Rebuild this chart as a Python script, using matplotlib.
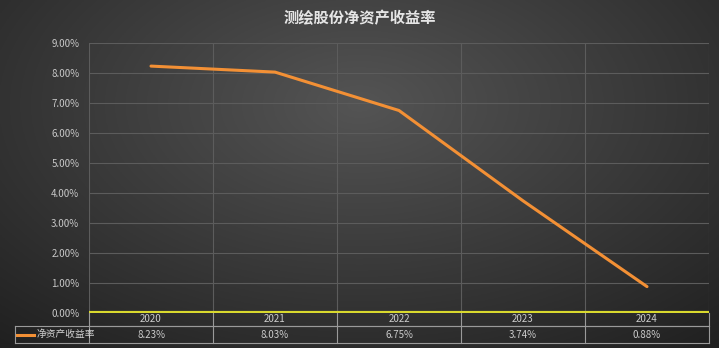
import numpy as np
import matplotlib
matplotlib.use("Agg")
import matplotlib.pyplot as plt
from matplotlib.transforms import blended_transform_factory

plt.rcParams['font.family'] = ['Noto Sans CJK SC', 'DejaVu Sans']

title = "测绘股份净资产收益率"
series_name = "净资产收益率"
years = ["2020", "2021", "2022", "2023", "2024"]
roe = [8.23, 8.03, 6.75, 3.74, 0.88]
roe_labels = ["8.23%", "8.03%", "6.75%", "3.74%", "0.88%"]
yticks = [0, 1, 2, 3, 4, 5, 6, 7, 8, 9]

W, H = 719, 348
fig = plt.figure(figsize=(W / 100, H / 100), dpi=100)

# radial dark background
bg = fig.add_axes([0, 0, 1, 1], zorder=-10)
gx, gy = np.meshgrid(np.linspace(0, 1, 400), np.linspace(0, 1, 200))
r = np.sqrt(((gx - 0.5) / 0.75) ** 2 + ((gy - 0.3) / 0.9) ** 2)
shade = np.clip(0.33 - 0.2 * r, 0.12, 0.33)
bg.imshow(np.dstack([shade, shade, shade]), extent=(0, 1, 0, 1), aspect="auto", origin="upper")
bg.axis("off")

left, right, top, bottom = 89, 709, 43, 313
ax = fig.add_axes([left / W, 1 - bottom / H, (right - left) / W, (bottom - top) / H])
ax.patch.set_alpha(0)
for s in ax.spines.values():
    s.set_visible(False)

x = np.arange(len(years))
ax.plot(x, roe, color="#F39035", lw=2.2, solid_capstyle="round", zorder=3)
ax.set_xlim(-0.5, len(years) - 0.5)
ax.set_ylim(0, 9)
ax.set_yticks(yticks)
ax.set_yticklabels([f"{v:.2f}%" for v in yticks])
ax.tick_params(axis="y", length=0, colors="#c8c8c8", labelsize=7, pad=7)
ax.set_xticks([])
grid_c = "#5c5c5c"
for v in yticks[1:]:
    ax.axhline(v, color=grid_c, lw=0.8, zorder=1)
for i in range(len(years) + 1):
    ax.axvline(i - 0.5, color=grid_c, lw=0.8, zorder=1)
ax.axhline(0, color="#d9d92e", lw=3, zorder=4)

# data table under the axes
ph = bottom - top
tr = blended_transform_factory(ax.transData, ax.transAxes)
y1 = -(326 - bottom) / ph
y2 = -(343 - bottom) / ph
tc = "#9a9a9a"
leg_x = -(left - 15) / (right - left)
ax.plot([-0.5, 4.5], [y1, y1], transform=tr, color=tc, lw=0.8, clip_on=False)
ax.plot([leg_x, 1], [y1, y1], transform=ax.transAxes, color=tc, lw=0.8, clip_on=False)
ax.plot([leg_x, 1], [y2, y2], transform=ax.transAxes, color=tc, lw=0.8, clip_on=False)
ax.plot([leg_x, leg_x], [y1, y2], transform=ax.transAxes, color=tc, lw=0.8, clip_on=False)
for i in range(len(years) + 1):
    ax.plot([i - 0.5, i - 0.5], [0, y2], transform=tr, color=tc, lw=0.8, clip_on=False)
for i, (yr, lab) in enumerate(zip(years, roe_labels)):
    ax.text(i, y1 / 2, yr, transform=tr, ha="center", va="center", color="#cccccc", fontsize=7)
    ax.text(i, (y1 + y2) / 2, lab, transform=tr, ha="center", va="center", color="#cccccc", fontsize=7)
lx0 = -(left - 17) / (right - left)
lx1 = -(left - 34) / (right - left)
ax.plot([lx0, lx1], [(y1 + y2) / 2] * 2, transform=ax.transAxes, color="#F39035", lw=2.2, clip_on=False)
ax.text(-(left - 37) / (right - left), (y1 + y2) / 2, series_name, transform=ax.transAxes,
        ha="left", va="center", color="#d0d0d0", fontsize=7)

fig.text(0.5, 1 - 18 / H, title, ha="center", va="center", color="#e6e6e6", fontsize=11, fontweight="bold")

fig.savefig("out.png", dpi=100)
